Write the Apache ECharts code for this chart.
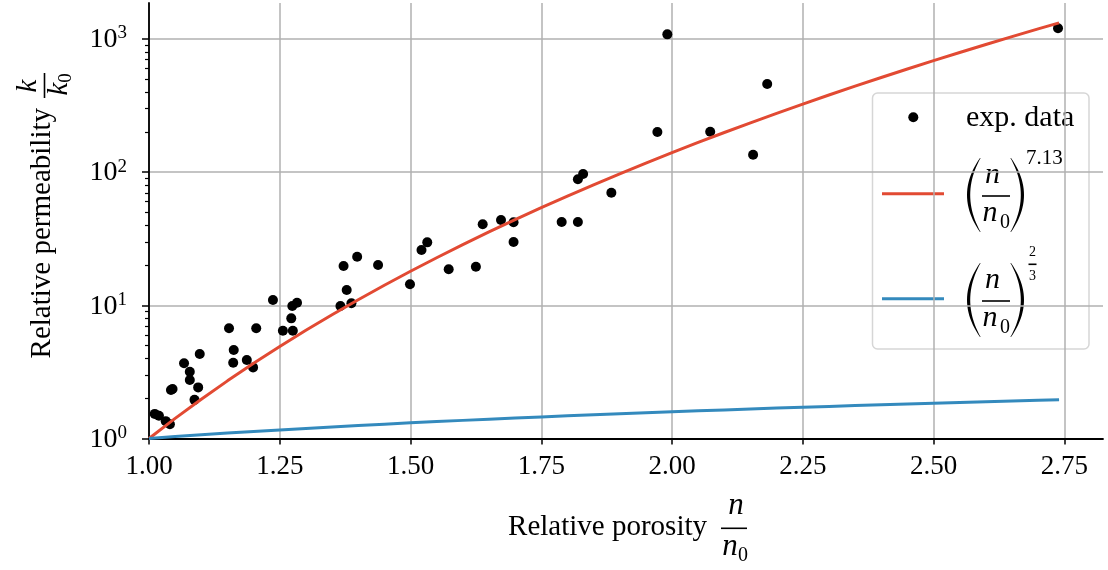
<!DOCTYPE html>
<html>
<head>
<meta charset="utf-8">
<script src="https://cdn.jsdelivr.net/npm/echarts@6/dist/echarts.min.js"></script>
<style>
html,body{margin:0;padding:0;background:#fff;}
#chart{width:1108px;height:570px;}
</style>
</head>
<body>
<div id="chart"></div>
<script>
// exp. data: relative porosity n/n0 and relative permeability k/k0
let porosity = [1.011, 1.019, 1.032, 1.040, 1.042, 1.045, 1.067, 1.078, 1.078, 1.087, 1.094, 1.097,
    1.153, 1.161, 1.162, 1.187, 1.199, 1.205, 1.237, 1.256, 1.272, 1.274, 1.275, 1.283,
    1.366, 1.372, 1.378, 1.387, 1.398, 1.438, 1.499, 1.521, 1.532, 1.573, 1.625, 1.638, 1.673, 1.697, 1.697,
    1.789, 1.820, 1.820, 1.830, 1.884, 1.972, 1.991, 2.073, 2.155, 2.182, 2.738];
let permeability = [1.53, 1.48, 1.35, 1.28, 2.31, 2.35, 3.67, 3.17, 2.75, 1.95, 2.42, 4.31,
    6.72, 3.71, 4.62, 3.88, 3.42, 6.72, 10.96, 6.45, 7.98, 9.88, 6.45, 10.46,
    9.88, 19.73, 13.03, 10.35, 23.17, 20.08, 14.38, 26.02, 29.7, 18.64, 19.49, 40.6, 43.7, 42.0, 29.9,
    42.2, 42.2, 88.3, 96.8, 70.0, 200, 1083, 201, 135, 459, 1202];

// fitted curves, sampled along n/n0
let fitX = [1.00, 1.05, 1.10, 1.15, 1.20, 1.25, 1.30, 1.35, 1.40, 1.45, 1.50, 1.55, 1.60, 1.65, 1.70, 1.75,
    1.80, 1.85, 1.90, 1.95, 2.00, 2.05, 2.10, 2.15, 2.20, 2.25, 2.30, 2.35, 2.40, 2.45, 2.50, 2.55,
    2.60, 2.65, 2.70, 2.74];
// (n/n0)^7.13
let fitPower = [1.000, 1.416, 1.973, 2.709, 3.669, 4.909, 6.493, 8.497, 11.01, 14.14, 18.01, 22.75,
    28.54, 35.54, 43.96, 54.06, 66.08, 80.34, 97.17, 116.94, 140.07, 167.04, 198.35, 234.58,
    276.4, 324.4, 379.4, 442.3, 513.9, 595.3, 687.6, 791.8, 909.4, 1041.7, 1190.2, 1321.8];
// (n/n0)^(2/3)
let fitSmall = [1.000, 1.0331, 1.0656, 1.0977, 1.1292, 1.1604, 1.1911, 1.2215, 1.2515, 1.2811, 1.3104, 1.3393,
    1.3680, 1.3963, 1.4244, 1.4522, 1.4797, 1.5070, 1.5340, 1.5608, 1.5874, 1.6138, 1.6399, 1.6658,
    1.6915, 1.7171, 1.7424, 1.7676, 1.7925, 1.8174, 1.8420, 1.8665, 1.8908, 1.9150, 1.9390, 1.9581];

// ticks
let xTicks = [1.00, 1.25, 1.50, 1.75, 2.00, 2.25, 2.50, 2.75];
let yTicks = [1, 10, 100, 1000];
let yMinorTicks = [2, 3, 4, 5, 6, 7, 8, 9, 20, 30, 40, 50, 60, 70, 80, 90, 200, 300, 400, 500, 600, 700, 800, 900];

const FONT = '"Liberation Serif", "DejaVu Serif", serif';
const RED = '#E24A33';
const BLUE = '#348ABD';

let chart = echarts.init(document.getElementById('chart'));

// tapered parenthesis as polygon
function parenPoints(xe, y0, y1, bulge, thick) {
    let pts = [];
    let n = 24;
    for (let i = 0; i <= n; i++) {
        let t = i / n;
        pts.push([xe + bulge * 4 * t * (1 - t), y0 + (y1 - y0) * t]);
    }
    let inner = bulge - Math.sign(bulge) * thick;
    for (let i = n; i >= 0; i--) {
        let t = i / n;
        pts.push([xe + inner * 4 * t * (1 - t) - Math.sign(bulge) * 0.6, y0 + (y1 - y0) * t]);
    }
    return pts;
}

function txt(x, y, s, size, align) {
    return {
        type: 'text', x: x, y: y,
        style: {text: s, fontFamily: FONT, fontSize: size, fill: '#000', align: align || 'center', verticalAlign: 'middle'}
    };
}
function italic(x, y, s, size) {
    let e = txt(x, y, s, size);
    e.style.fontStyle = 'italic';
    return e;
}
function bar(x1, x2, y) {
    return {type: 'line', shape: {x1: x1, y1: y, x2: x2, y2: y}, style: {stroke: '#000', lineWidth: 1.6}};
}

// (n / n0) block for the legend, shifted by dy
function fracLabel(dy) {
    return [
        {type: 'polygon', shape: {points: parenPoints(980, 158 + dy, 232 + dy, -13, 2.6)}, style: {fill: '#000'}},
        {type: 'polygon', shape: {points: parenPoints(1011, 158 + dy, 232 + dy, 13, 2.6)}, style: {fill: '#000'}},
        italic(992.5, 175 + dy, 'n', 30),
        bar(982, 1010, 196 + dy),
        italic(990, 213 + dy, 'n', 30),
        txt(1005, 223 + dy, '0', 20)
    ];
}

let legendEls = [
    {type: 'rect', shape: {x: 872.5, y: 93, width: 216.5, height: 256, r: 5},
        style: {fill: 'rgba(255,255,255,0.8)', stroke: '#d6d6d6', lineWidth: 1.5}},
    {type: 'circle', shape: {cx: 913.3, cy: 117.3, r: 5}, style: {fill: '#000'}},
    txt(966, 118.5, 'exp. data', 30, 'left'),
    {type: 'line', shape: {x1: 882, y1: 193.7, x2: 944, y2: 193.7}, style: {stroke: RED, lineWidth: 3}},
    {type: 'line', shape: {x1: 882, y1: 298.7, x2: 944, y2: 298.7}, style: {stroke: BLUE, lineWidth: 3}}
].concat(fracLabel(0), fracLabel(105), [
    txt(1026, 158.5, '7.13', 21, 'left'),
    txt(1032.5, 252.5, '2', 14),
    bar(1028.5, 1036.5, 264.3),
    txt(1032.5, 276.5, '3', 14)
]);

// axis titles with fractions
let xTitle = [
    txt(707, 527, 'Relative porosity', 29, 'right'),
    italic(736, 506, 'n', 31),
    bar(721, 747, 528.3),
    italic(730, 547, 'n', 31),
    txt(743, 556, '0', 20)
];

let yTitleGroup = {
    type: 'group', x: 42, y: 104, rotation: Math.PI / 2,
    children: [
        txt(-4, 0, 'Relative permeability', 29, 'right'),
        italic(18, -14, 'k', 29),
        bar(6, 31, 2.5),
        italic(15, 17, 'k', 29),
        txt(26, 24, '0', 19)
    ]
};

let scatterData = porosity.map((x, i) => [x, permeability[i]]);

let option = {
    animation: false,
    grid: {left: 149, right: 5, top: 3, bottom: 131.5},
    xAxis: {
        type: 'value', min: 1.0, max: 2.824,
        axisLine: {onZero: false, lineStyle: {color: '#000', width: 1.8}},
        axisTick: {length: 6, customValues: xTicks, lineStyle: {color: '#000', width: 1.5}},
        axisLabel: {customValues: xTicks, fontFamily: FONT, fontSize: 27, color: '#000', margin: 15,
            formatter: v => v.toFixed(2)},
        splitLine: {show: true, lineStyle: {color: '#b0b0b0', width: 1.5}}
    },
    yAxis: [{
        type: 'log', logBase: 10, min: 1, max: 1862,
        axisLine: {onZero: false, lineStyle: {color: '#000', width: 1.8}},
        axisTick: {length: 7, customValues: yTicks, lineStyle: {color: '#000', width: 1.5}},
        axisLabel: {customValues: yTicks, margin: 22,
            formatter: v => '{b|10}{s|' + Math.round(Math.log10(v)) + '}',
            rich: {
                b: {fontFamily: FONT, fontSize: 28, color: '#000', lineHeight: 30, verticalAlign: 'bottom'},
                s: {fontFamily: FONT, fontSize: 19, color: '#000', lineHeight: 18, verticalAlign: 'top'}
            }},
        splitLine: {show: true, lineStyle: {color: '#b0b0b0', width: 1.5}}
    }, {
        // minor ticks of the log axis
        type: 'log', logBase: 10, min: 1, max: 1862, position: 'left',
        axisLine: {show: false},
        axisTick: {length: 4, customValues: yMinorTicks, lineStyle: {color: '#000', width: 1.2}},
        axisLabel: {show: false},
        splitLine: {show: false}
    }],
    series: [{
        name: 'exp. data', type: 'scatter', data: scatterData,
        symbol: 'circle', symbolSize: 10, itemStyle: {color: '#000', opacity: 1}, z: 3
    }, {
        name: 'power 7.13', type: 'line', data: fitX.map((x, i) => [x, fitPower[i]]),
        showSymbol: false, symbol: 'none',
        lineStyle: {color: RED, width: 3}, z: 4
    }, {
        name: 'power 2/3', type: 'line', data: fitX.map((x, i) => [x, fitSmall[i]]),
        showSymbol: false, symbol: 'none',
        lineStyle: {color: BLUE, width: 3}, z: 4
    }],
    graphic: [
        {type: 'group', z: 100, children: legendEls},
        {type: 'group', children: xTitle},
        yTitleGroup
    ]
};

chart.setOption(option);
</script>
</body>
</html>
